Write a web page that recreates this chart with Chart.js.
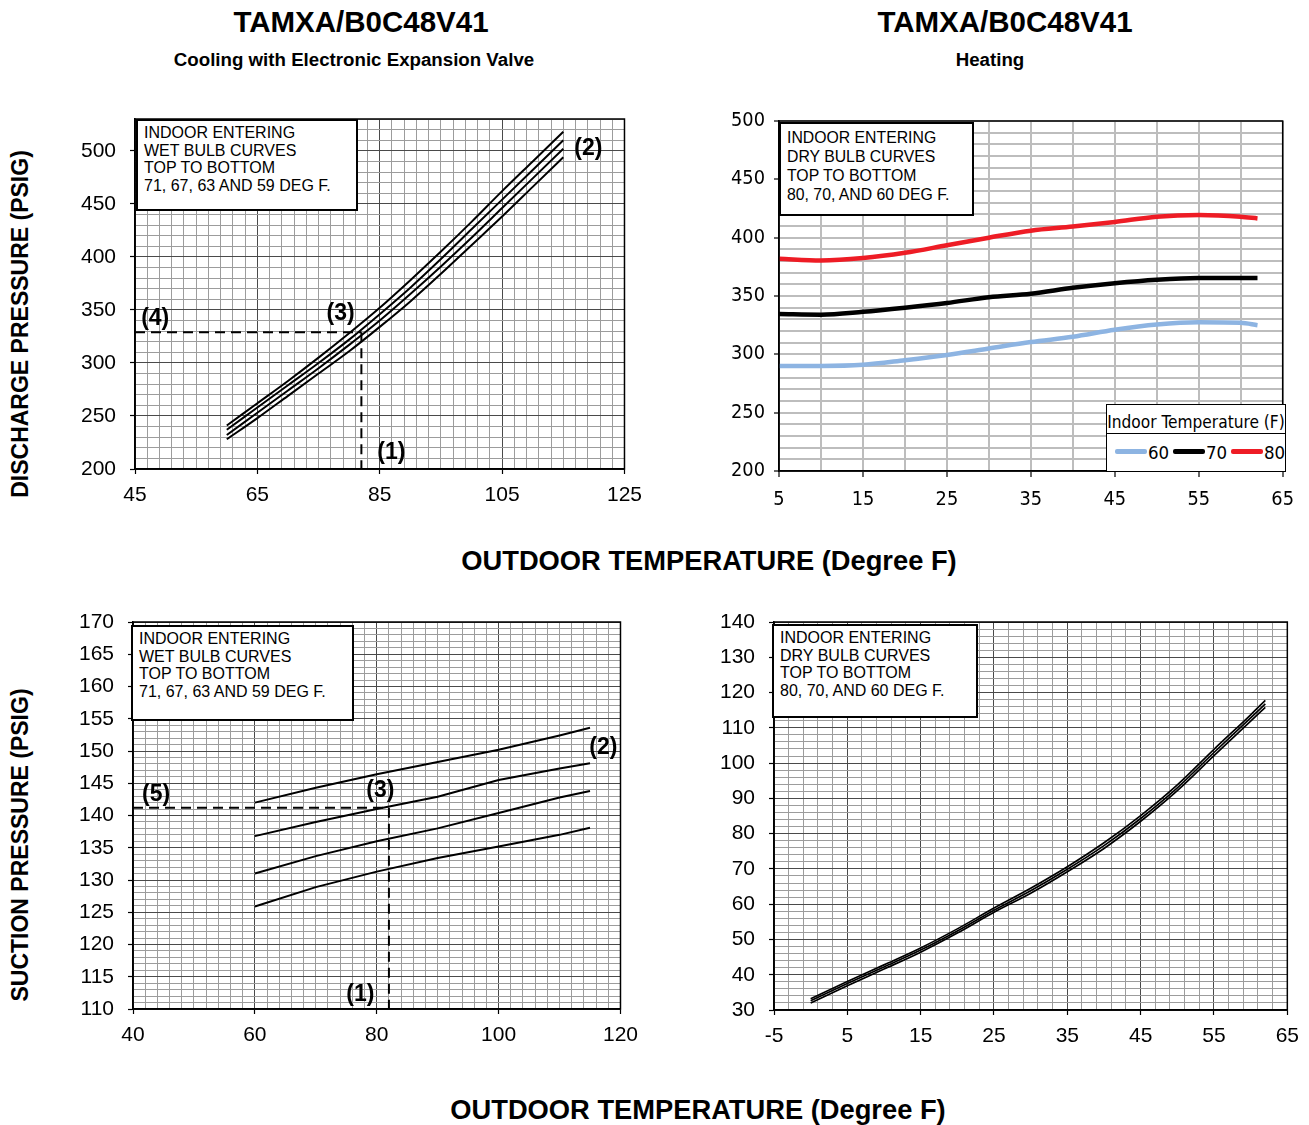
<!DOCTYPE html>
<html><head><meta charset="utf-8">
<script src="https://cdn.jsdelivr.net/npm/chart.js@4.4.1/dist/chart.umd.min.js"></script>
<style>
body{margin:0;background:#fff;width:1309px;height:1125px;position:relative;overflow:hidden;font-family:"Liberation Sans",Arial,sans-serif;color:#000;}
canvas{position:absolute;}
.t{position:absolute;white-space:nowrap;font-weight:bold;transform:translate(-50%,-50%);}
.rot{position:absolute;white-space:nowrap;font-weight:bold;transform:translate(-50%,-50%) rotate(-90deg);}
.box{position:absolute;border:2px solid #000;background:#fff;box-sizing:border-box;white-space:nowrap;padding-left:6px;}
#legend{position:absolute;left:1106px;top:404px;width:180px;height:68px;border:1.5px solid #000;background:#fff;box-sizing:border-box;}
#legend .sep{position:absolute;left:0;right:0;top:28px;border-top:1.5px solid #000;}
#legend .ln{position:absolute;height:5px;top:44px;border-radius:2px;}
#legend .tx{position:absolute;white-space:nowrap;transform:translateY(-50%);}
</style></head><body>

<div class="t" style="left:361px;top:22px;font-size:29.5px;">TAMXA/B0C48V41</div>
<div class="t" style="left:1005px;top:22px;font-size:29.5px;">TAMXA/B0C48V41</div>
<div class="t" style="left:354px;top:60px;font-size:18.7px;">Cooling with Electronic Expansion Valve</div>
<div class="t" style="left:990px;top:60px;font-size:18.7px;">Heating</div>
<div class="t" style="left:709px;top:561px;font-size:27.3px;">OUTDOOR TEMPERATURE (Degree F)</div>
<div class="t" style="left:698px;top:1110px;font-size:27.3px;">OUTDOOR TEMPERATURE (Degree F)</div>
<div class="rot" style="left:20px;top:324px;font-size:23px;">DISCHARGE PRESSURE (PSIG)</div>
<div class="rot" style="left:20px;top:845px;font-size:23px;">SUCTION PRESSURE (PSIG)</div>

<canvas id="c1" width="576" height="400" style="left:75px;top:109px;"></canvas>
<canvas id="c2" width="586" height="400" style="left:719px;top:111px;"></canvas>
<canvas id="c3" width="574" height="437" style="left:73px;top:612px;"></canvas>
<canvas id="c4" width="594" height="438" style="left:714px;top:612px;"></canvas>

<div class="box" style="left:136px;top:119px;width:222px;height:92px;font-size:16px;line-height:17.7px;padding-top:3px;">INDOOR ENTERING<br>WET BULB CURVES<br>TOP TO BOTTOM<br>71, 67, 63 AND 59 DEG F.</div>
<div class="box" style="left:779px;top:122px;width:195px;height:94px;font-size:15.8px;line-height:19px;padding-top:3.5px;">INDOOR ENTERING<br>DRY BULB CURVES<br>TOP TO BOTTOM<br>80, 70, AND 60 DEG F.</div>
<div class="box" style="left:131px;top:625px;width:223px;height:96px;font-size:16px;line-height:17.5px;padding-top:3px;">INDOOR ENTERING<br>WET BULB CURVES<br>TOP TO BOTTOM<br>71, 67, 63 AND 59 DEG F.</div>
<div class="box" style="left:772px;top:624px;width:206px;height:94px;font-size:16px;line-height:17.7px;padding-top:3px;">INDOOR ENTERING<br>DRY BULB CURVES<br>TOP TO BOTTOM<br>80, 70, AND 60 DEG F.</div>

<div id="legend"></div>

<script>
// ---------- DATA ----------
// Cooling discharge (top-left)
const coolX = [60,65,70,75,80,85,90,95,100,105,110,115];
const dis71 = [241,262,283,305,328,352,378,405,433,462,490,518];
const dis67 = [237,258,279,300,322,346,371,398,426,454,482,510];
const dis63 = [232,253,274,295,317,340,365,391,418,446,474,502];
const dis59 = [228,248,269,290,311,334,358,384,411,438,466,494];
const disGuideX = 82, disGuideY = 329;
const disMarks = [{t:'(4)',x:48.3,y:342},{t:'(3)',x:78.6,y:346},{t:'(1)',x:86.9,y:215},{t:'(2)',x:119.1,y:502}];

// Heating discharge (top-right)
const heatX  = [5,10,15,20,25,30,35,40,45,50,55,60,62];
const heat80 = [382,380.5,382.5,387,393.5,400,406,409.5,413.5,418,419.5,418,416.5];
const heat70 = [334.5,334,336.5,340,344,349,352,357,361,364,365.5,365.5,365.5];
const heat60 = [290,290,291,295,299.5,305,310.5,315,321,325.5,327.5,327,325];
const heatLegend = ['60','70','80'];
const heatColors = ['#8DB4E2','#000000','#EE1C25'];

// Cooling suction (bottom-left)
const sucX  = [60,70,80,90,100,110,115];
const suc71 = [142.0,144.3,146.4,148.3,150.2,152.4,153.6];
const suc67 = [136.8,139.0,141.0,142.9,145.5,147.3,148.1];
const suc63 = [131.0,133.7,136.0,138.0,140.4,142.8,143.8];
const suc59 = [125.9,128.9,131.3,133.4,135.2,137.0,138.1];
const sucGuideX = 82, sucGuideY = 141.2;
const sucMarks = [{t:'(5)',x:43.8,y:143.2},{t:'(3)',x:80.6,y:143.8},{t:'(1)',x:77.3,y:112.2},{t:'(2)',x:117.2,y:150.5}];

// Heating suction (bottom-right)
const hsX   = [0,5,10,15,20,25,30,35,40,45,50,55,60,62];
const hs80  = [33.2,38.1,42.8,47.6,53.0,58.9,64.5,70.6,77.4,85.1,93.8,103.9,113.7,117.8];
const hs70  = [32.6,37.5,42.2,47.0,52.4,58.3,63.8,69.9,76.6,84.3,93.0,103.0,112.8,116.8];
const hs60  = [32.0,36.9,41.6,46.4,51.8,57.7,63.1,69.2,75.8,83.5,92.2,102.1,111.9,115.8];

// ---------- FONTS ----------
function hasFont(name){
  const c=document.createElement('canvas').getContext('2d');
  const s='mmmmWWiil0123456789';
  c.font='40px monospace'; const a=c.measureText(s).width;
  c.font='40px "'+name+'", monospace'; const b=c.measureText(s).width;
  return Math.abs(a-b)>0.5;
}
let NARROW=null, nScale=1;
if(hasFont('Liberation Sans Narrow')) NARROW='"Liberation Sans Narrow"';
else if(hasFont('DejaVu Sans Condensed')) {NARROW='"DejaVu Sans Condensed"'; nScale=0.88;}
const REG='"Liberation Sans", Arial, sans-serif';
const narrowFam = NARROW ? NARROW+', '+REG : REG;
const narrowSz = s => NARROW ? s*nScale : s*0.82;

// ---------- HELPERS ----------
const pts = (xs, ys) => xs.map((x,i)=>({x:x, y:ys[i]}));

function axis(o){
  const isMajor = v => { const q=(v-o.origin)/o.every; return Math.abs(q-Math.round(q))<1e-6; };
  return {
    type:'linear', min:o.min, max:o.max,
    afterBuildTicks: s => { const t=[]; const n=Math.round((o.max-o.min)/o.step); for(let i=0;i<=n;i++) t.push({value:+(o.min+i*o.step).toFixed(6)}); s.ticks=t; },
    ticks:{autoSkip:false, maxRotation:0, minRotation:0, padding:o.pad, color:'#000', font:{family:o.fam||REG, size:o.size},
      callback: v => isMajor(v) ? String(v) : ''},
    grid:{
      color: c => (c.tick && isMajor(c.tick.value)) ? o.major : o.minor,
      lineWidth: c => (c.tick && isMajor(c.tick.value)) ? o.majorW : o.minorW,
      tickLength:o.tl,
      tickColor: c => (c.tick && isMajor(c.tick.value)) ? '#000' : 'rgba(0,0,0,0)',
      tickWidth:1.2
    },
    border:{display:true, color:'#000', width:1.5},
    afterFit: s => {
      if(o.w) s.width=o.w;
      if(o.h) s.height=o.h;
      s.paddingTop=0; s.paddingBottom=0;
      if(o.w){ s.paddingLeft=0; s.paddingRight=0; }
    }
  };
}

const framePlugin = {
  id:'frame',
  afterDatasetsDraw(chart, args, opts){
    const {ctx, chartArea:a} = chart;
    ctx.save(); ctx.strokeStyle='#000'; ctx.lineWidth=opts.width||1.5;
    ctx.strokeRect(a.left, a.top, a.right-a.left, a.bottom-a.top);
    ctx.restore();
    const marks = opts.marks||[];
    const x=chart.scales.x, y=chart.scales.y;
    ctx.save(); ctx.font='bold 23px '+REG; ctx.textAlign='center'; ctx.textBaseline='middle'; ctx.fillStyle='#000';
    marks.forEach(m=>ctx.fillText(m.t, x.getPixelForValue(m.x), y.getPixelForValue(m.y)));
    ctx.restore();
  }
};

function line(data, color, width, extra){
  return Object.assign({type:'line', data:data, borderColor:color, borderWidth:width, pointRadius:0, fill:false, tension:0}, extra||{});
}

function make(id, datasets, xAx, yAx, padRight, marks){
  new Chart(document.getElementById(id), {
    type:'line',
    data:{datasets:datasets},
    options:{
      responsive:false, animation:false, devicePixelRatio:1,
      layout:{padding:{top:10, right:padRight, left:0, bottom:0}},
      scales:{x:xAx, y:yAx},
      plugins:{legend:{display:false}, tooltip:{enabled:false}, frame:{marks:marks}}
    },
    plugins:[framePlugin]
  });
}

const MINOR='#9c9c9c', MAJOR='#4a4a4a';
const SMOOTH={cubicInterpolationMode:'monotone'};

// Chart 1: cooling discharge
make('c1', [
  line(pts(coolX,dis71),'#000',2,SMOOTH),
  line(pts(coolX,dis67),'#000',2,SMOOTH),
  line(pts(coolX,dis63),'#000',2,SMOOTH),
  line(pts(coolX,dis59),'#000',2,SMOOTH),
  line([{x:45,y:disGuideY},{x:disGuideX,y:disGuideY}],'#000',2,{borderDash:[10,6]}),
  line([{x:disGuideX,y:disGuideY},{x:disGuideX,y:200}],'#000',2,{borderDash:[10,6]})
],
axis({min:45,max:125,step:2,origin:45,every:20,pad:9,tl:5,size:21,h:40,major:MAJOR,minor:MINOR,majorW:1,minorW:1}),
axis({min:200,max:530,step:10,origin:200,every:50,pad:14,tl:5,size:21,w:60,major:MAJOR,minor:MINOR,majorW:1,minorW:1}),
23, disMarks);

// Chart 2: heating discharge
make('c2', [
  line(pts(heatX,heat80),heatColors[2],4.5,SMOOTH),
  line(pts(heatX,heat70),heatColors[1],4.5,SMOOTH),
  line(pts(heatX,heat60),heatColors[0],4.5,SMOOTH)
],
axis({min:5,max:65,step:5,origin:5,every:10,pad:11,tl:6,size:narrowSz(22.5),fam:narrowFam,h:40,major:'#bdbdbd',minor:'#bdbdbd',majorW:2,minorW:2}),
axis({min:200,max:500,step:10,origin:200,every:50,pad:9,tl:5,size:narrowSz(22.5),fam:narrowFam,w:60,major:'#bdbdbd',minor:'#bdbdbd',majorW:2,minorW:2}),
20, []);

// Chart 3: cooling suction
make('c3', [
  line(pts(sucX,suc71),'#000',2),
  line(pts(sucX,suc67),'#000',2),
  line(pts(sucX,suc63),'#000',2),
  line(pts(sucX,suc59),'#000',2),
  line([{x:40,y:sucGuideY},{x:sucGuideX,y:sucGuideY}],'#000',2,{borderDash:[10,6]}),
  line([{x:sucGuideX,y:sucGuideY},{x:sucGuideX,y:110}],'#000',2,{borderDash:[10,6]})
],
axis({min:40,max:120,step:2,origin:40,every:20,pad:9,tl:5,size:21,h:40,major:MAJOR,minor:MINOR,majorW:1,minorW:1}),
axis({min:110,max:170,step:1,origin:110,every:5,pad:14,tl:5,size:21,w:60,major:MAJOR,minor:MINOR,majorW:1,minorW:1}),
25, sucMarks);

// Chart 4: heating suction
make('c4', [
  line(pts(hsX,hs80),'#000',1.7,SMOOTH),
  line(pts(hsX,hs70),'#000',1.7,SMOOTH),
  line(pts(hsX,hs60),'#000',1.7,SMOOTH)
],
axis({min:-5,max:65,step:2,origin:-5,every:10,pad:9,tl:5,size:21,h:40,major:MAJOR,minor:MINOR,majorW:1,minorW:1}),
axis({min:30,max:140,step:2,origin:30,every:10,pad:14,tl:5,size:21,w:60,major:MAJOR,minor:MINOR,majorW:1,minorW:1}),
18, []);

// Legend for heating chart
(function(){
  const lg=document.getElementById('legend');
  const f=narrowFam;
  let h='<div class="tx" style="left:0;right:0;text-align:center;top:16.5px;font-family:'+f.replace(/"/g,"'")+';font-size:'+narrowSz(19.5)+'px;">Indoor Temperature (F)</div><div class="sep"></div>';
  const lx=[8,66,124];
  heatLegend.forEach((name,i)=>{
    h+='<div class="ln" style="left:'+lx[i]+'px;width:32px;background:'+heatColors[i]+';"></div>';
    h+='<div class="tx" style="left:'+(lx[i]+33)+'px;top:46.5px;font-family:'+f.replace(/"/g,"'")+';font-size:'+narrowSz(21)+'px;">'+name+'</div>';
  });
  lg.innerHTML=h;
})();
</script>
</body></html>
